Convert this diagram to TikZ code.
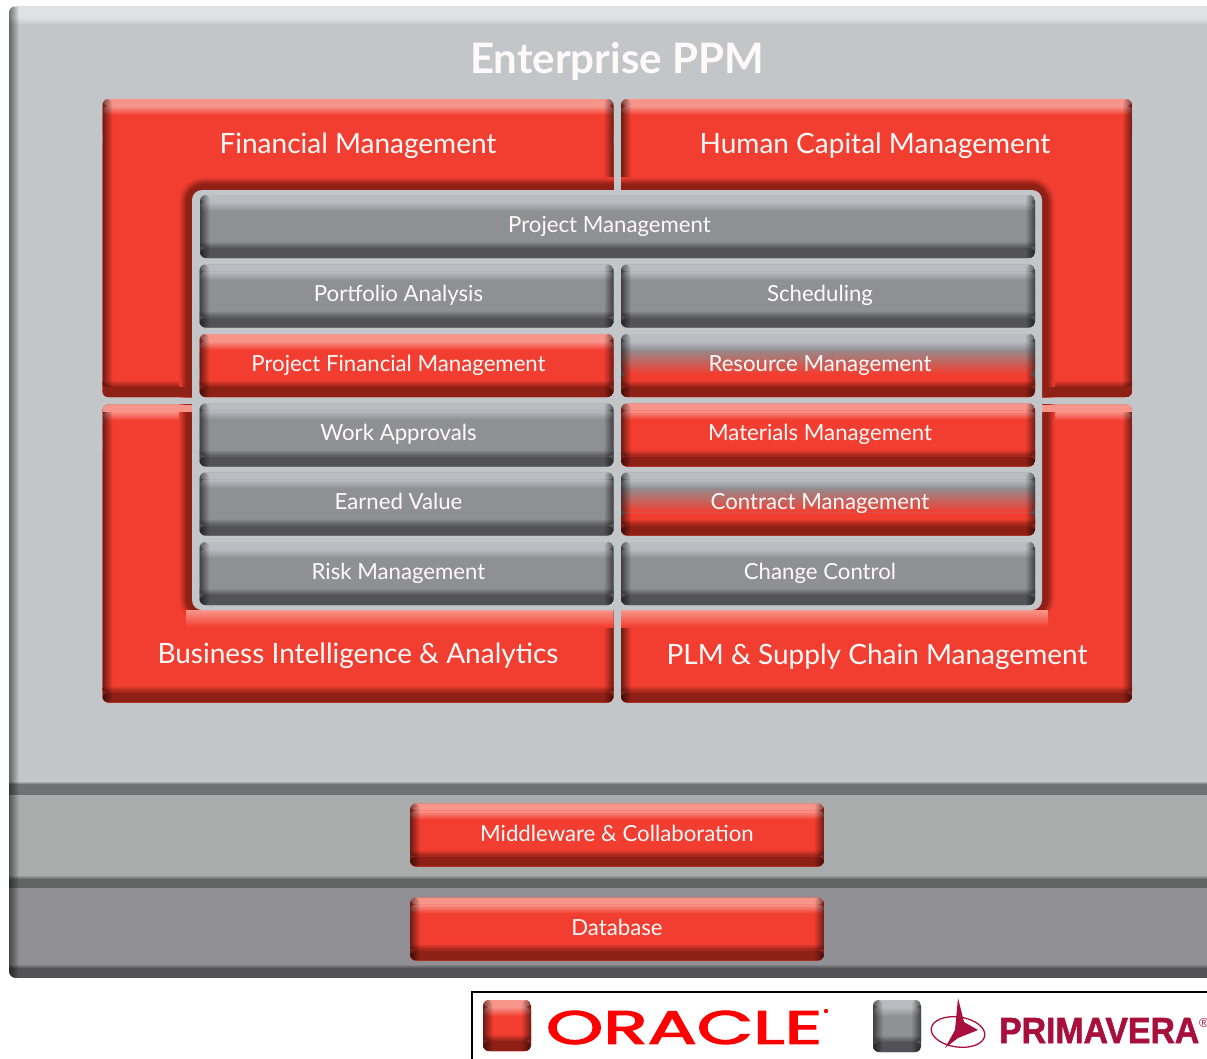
\documentclass[tikz,border=0pt]{standalone}
\usepackage{fontspec}
\setmainfont{Lato}
\newfontfamily\oraclefont[FakeBold=2.5]{Poppins}
\newfontfamily\primafont[FakeBold=1.5,UprightFont={* Bold}]{Liberation Sans}
\newfontfamily\markfont{Liberation Sans}
\usetikzlibrary{fadings}
\definecolor{redbase}{HTML}{F23E30}
\definecolor{redhigh}{HTML}{F8958B}
\definecolor{reddark}{HTML}{8E2016}
\definecolor{greybase}{HTML}{8F9094}
\definecolor{greyhigh}{HTML}{BBBCC1}
\definecolor{greydark}{HTML}{525257}
\definecolor{backbase}{HTML}{C3C6C8}
\definecolor{backhigh}{HTML}{E0E1E5}
\definecolor{midband}{HTML}{A9ACAA}
\definecolor{lowband}{HTML}{908F93}
\definecolor{oraclered}{HTML}{FF0000}
\definecolor{primared}{HTML}{A80F3C}
\def\pb{path picture bounding box}
\newcommand\bevelfaces[4]{%
    \fill [#2] (\pb.north west) rectangle (\pb.south east);
    \fill [#3] ([yshift=-40pt]\pb.north west) rectangle (\pb.south east);
    \shade [top color=#2, bottom color=#3] ([yshift=-14pt]\pb.north west) rectangle ([yshift=-40pt]\pb.north east);
    \fill [#1] (\pb.north west) rectangle ([yshift=-7pt]\pb.north east);
    \shade [top color=#1, bottom color=#2] ([yshift=-7pt]\pb.north west) rectangle ([yshift=-16pt]\pb.north east);
    \shade [top color=#3, bottom color=#4] ([yshift=17pt]\pb.south west) rectangle ([yshift=10pt]\pb.south east);
    \fill [#4] ([yshift=10pt]\pb.south west) rectangle (\pb.south east);
    \fill [black, fill opacity=.55, path fading=east] (\pb.north west) rectangle ([xshift=10pt]\pb.south west);
    \fill [black, fill opacity=.55, path fading=west] ([xshift=-10pt]\pb.north east) rectangle (\pb.south east);
}
\tikzset{%
    every bevel/.style={
            rectangle,
            rounded corners=6pt,
            inner sep=0pt,
            outer sep=0pt
        },
    every tile/.style={
            every bevel,
            minimum width=414pt,
            minimum height=63pt
        },
    tile grey/.style={
            path picture={\bevelfaces{greyhigh}{greybase}{greybase}{greydark}}
        },
    tile red/.style={
            path picture={\bevelfaces{redhigh}{redbase}{redbase}{reddark}}
        },
    tile mixed/.style={
            path picture={\bevelfaces{greyhigh}{greybase}{redbase}{reddark}}
        },
    tile wide/.style={
            minimum width=835pt,
            path picture={\bevelfaces{greyhigh}{greybase}{greybase}{greydark}}
        },
    every block/.style={
            every bevel,
            tile red,
            minimum width=511pt,
            minimum height=298pt
        },
    tile label/.style={
            text=white!95!redhigh,
            font=\fontsize{22.2}{24}\selectfont,
            text height=16pt,
            text depth=5pt,
            inner sep=0pt
        },
    block label/.style={
            text=white!95!redhigh,
            font=\fontsize{28}{30}\selectfont,
            text height=21pt,
            text depth=7pt,
            inner sep=0pt
        },
}
\begin{document}
\begin{tikzpicture}[x=1pt, y=-1pt]

        \useasboundingbox (0,0) rectangle (1207,1058);
        \fill [white] (0,0) rectangle (1207,1058);

        \begin{scope}
        \clip [rounded corners=7pt] (9,6) rectangle (1240,978);
        \fill [backbase] (9,6) rectangle (1240,784);
        \fill [backhigh] (9,6) rectangle (1240,17);
        \shade [top color=backhigh, bottom color=backbase] (9,17) rectangle (1240,25);
        \fill [midband] (9,795) rectangle (1240,878);
        \fill [lowband] (9,888) rectangle (1240,968);
        \shade [top color=backbase, bottom color=black!55!backbase] (9,781) rectangle (1240,785);
        \fill [black!43!backbase] (9,785) rectangle (1240,795);
        \shade [top color=midband, bottom color=black!42!midband] (9,875) rectangle (1240,879);
        \fill [black!42!midband] (9,879) rectangle (1240,888);
        \shade [top color=lowband, bottom color=greydark] (9,964) rectangle (1240,968);
        \fill [greydark] (9,968) rectangle (1240,978);
        \fill [black, fill opacity=.5, path fading=east] (9,6) rectangle (19,978);
        \end{scope}

        \foreach \n/\x/\y in {fm/358/248,hc/876.5/248,bi/358/553.5,plm/876.5/553.5}
        \node [every block] (block-\n) at (\x,\y) {};

        \foreach \n/\s/\a/\h in {fm/reddark/south/-10,hc/reddark/south/-10,bi/redhigh/north/7,plm/redhigh/north/7} {
        \begin{scope}
        \clip [rounded corners=6pt] (block-\n.north west) rectangle (block-\n.south east);
        \foreach \w/\c in {26/8,24/16,22/28,20/42,18/58,16/72,14/85,12/95,10/100}
        \draw [reddark!\c!redbase, line width=\w pt, rounded corners=12pt] (192,190) rectangle (1042,610);
        \shade [top color=redhigh, bottom color=redbase] (186,610) rectangle (1048,627);
        \fill [\s] (block-\n.\a\space west) ++(0,\h) rectangle (block-\n.\a\space east);
        \end{scope}
        }

        \node [every bevel, rounded corners=10pt, fill=backbase, minimum width=850pt, minimum height=420pt] (panel) at (617,400) {};

        \foreach \n/\s/\x/\y/\l in {
            project/wide/617.5/226.5/Project Management,
            portfolio/grey/406.5/296/Portfolio Analysis,
            scheduling/grey/828/296/Scheduling,
            finance/red/406.5/365.5/Project Financial Management,
            resource/mixed/828/365.5/Resource Management,
            approvals/grey/406.5/435/Work Approvals,
            materials/red/828/435/Materials Management,
            earned/grey/406.5/504/Earned Value,
            contract/mixed/828/504/Contract Management,
            risk/grey/406.5/573.5/Risk Management,
            change/grey/828/573.5/Change Control} {
        \node [every tile, tile \s] (tile-\n) at (\x,\y) {};
        \node [tile label] (label-\n) at ([xshift=-8pt]tile-\n.center) {\l};
        }

        \foreach \n/\y/\l in {middleware/835/Middleware \& Collaboration,database/929/Database} {
        \node [every tile, tile red] (tile-\n) at (617,\y) {};
        \node [tile label] (label-\n) at ([yshift=-1pt]tile-\n.center) {\l};
        }

        \foreach \n/\x/\y/\l in {
            fm/358/146/Financial Management,
            hc/875/146/Human Capital Management,
            bi/358/656/Business Intelligence \& Analytics,
            plm/877/657/PLM \& Supply Chain Management}
        \node [block label] (label-\n) at (\x,\y) {\l};

        \node [block label, font=\fontsize{42}{44}\selectfont\bfseries, text height=30pt, text depth=0pt] (title) at (617,58) {Enterprise PPM};

        \draw [black, line width=1.6pt] (472,992) rectangle (1240,1080);

        \node [every bevel, tile red, minimum width=48pt, minimum height=51pt] (swatch-oracle) at (507,1025.5) {};
        \node [every bevel, tile grey, minimum width=48pt, minimum height=52pt] (swatch-primavera) at (897,1026) {};

        \node [text=oraclered, inner sep=0pt] (logo-oracle) at (684,1027.5)
            {\resizebox{276pt}{33pt}{\oraclefont ORACLE}};
        \fill [oraclered] (826,1011) circle (2.2);

        \node [text=primared, inner sep=0pt, anchor=west] (logo-primavera) at (999,1030.5)
            {\resizebox{200pt}{25pt}{\primafont PRIMAVERA}};
        \node [text=primared, inner sep=0pt, font=\fontsize{13}{13}\selectfont, anchor=west] (logo-mark) at (1199,1023) {\markfont ®};

        \draw [primared, line width=1.3pt, rotate around={-8:(958,1032)}] (958,1032) ellipse [x radius=27, y radius=15];
        \fill [primared] (958,998) -- (964,1022) -- (978,1030) -- (958,1038) -- (945,1048) -- (955,1030) -- cycle;

    \end{tikzpicture}
\end{document}
